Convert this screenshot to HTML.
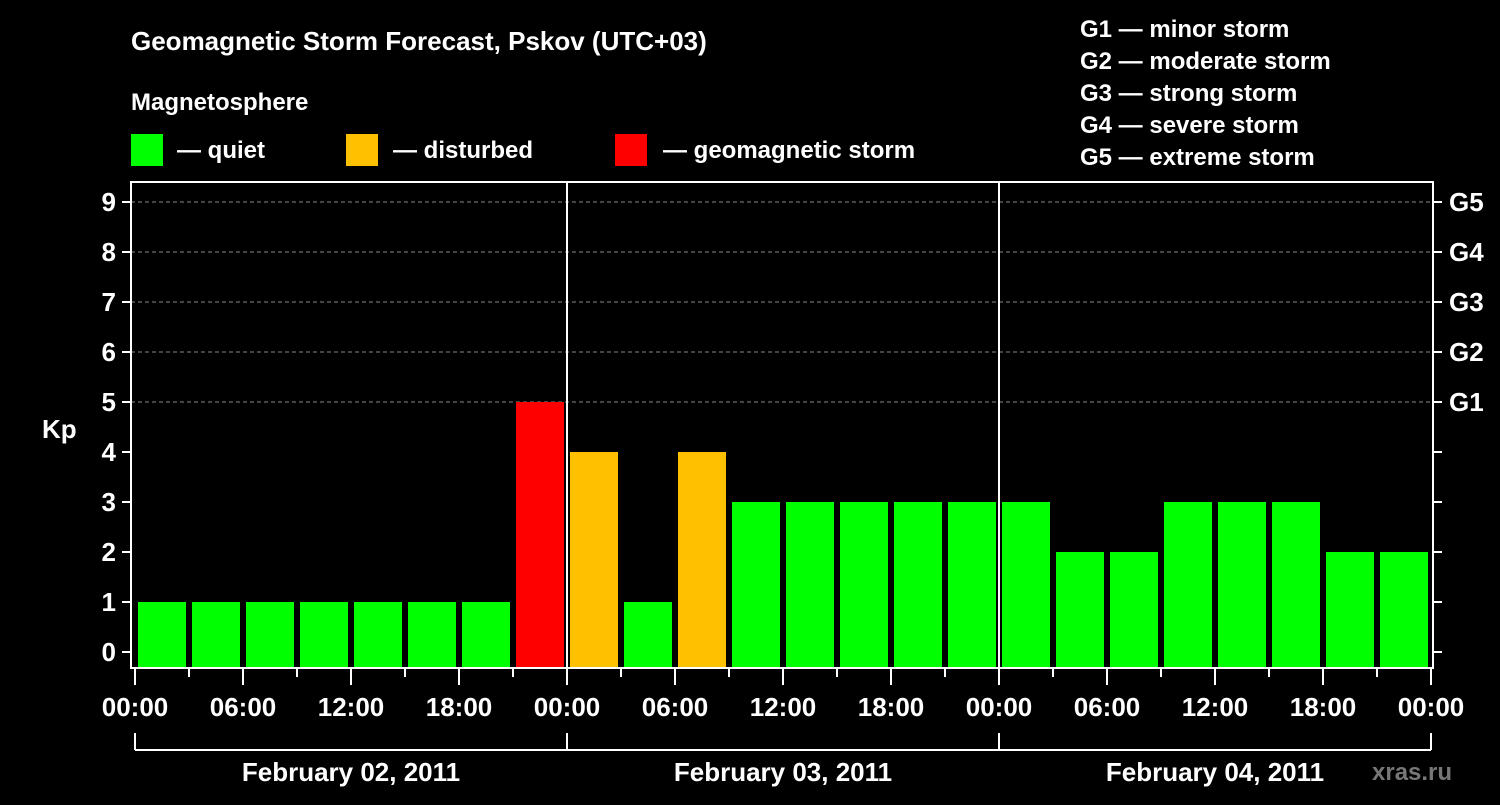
<!DOCTYPE html>
<html><head><meta charset="utf-8"><style>
body{margin:0;background:#000;width:1500px;height:800px;overflow:hidden}
svg text{font-family:"Liberation Sans",sans-serif;font-weight:bold;fill:#fff}
</style></head><body>
<svg id="c" width="1500" height="800">
<text x="131" y="50" font-size="26">Geomagnetic Storm Forecast, Pskov (UTC+03)</text>
<text x="131" y="110" font-size="24">Magnetosphere</text>
<g><rect x="131" y="134" width="32" height="32" fill="#00ff00"/><text x="177" y="158" font-size="24">— quiet</text></g>
<g><rect x="346" y="134" width="32" height="32" fill="#ffc000"/><text x="393" y="158" font-size="24">— disturbed</text></g>
<g><rect x="615" y="134" width="32" height="32" fill="#ff0000"/><text x="663" y="158" font-size="24">— geomagnetic storm</text></g>
<g font-size="24">
<text x="1080" y="37">G1 — minor storm</text><text x="1080" y="69">G2 — moderate storm</text><text x="1080" y="101">G3 — strong storm</text><text x="1080" y="133">G4 — severe storm</text><text x="1080" y="165">G5 — extreme storm</text></g>
<text x="42" y="438" font-size="26">Kp</text>
<text x="1372" y="780" font-size="24" fill="#777" style="fill:#777">xras.ru</text>
<g id="grid"></g><g id="bars"></g><g id="axes"></g>
</svg>
<script>
const kpValues=[1,1,1,1,1,1,1,5,4,1,4,3,3,3,3,3,3,2,2,3,3,3,2,2];
const yTicks=[0,1,2,3,4,5,6,7,8,9];
const gLabels=["G1","G2","G3","G4","G5"];
const timeLabels=["00:00","06:00","12:00","18:00"];
const dayLabels=["February 02, 2011","February 03, 2011","February 04, 2011"];
const NS="http://www.w3.org/2000/svg";
const X0=135,DAYW=432,BOT=668,TOP=182,L=131,R=1433;
const y=v=>652-50*v, x=h=>X0+h*DAYW/24;
function mk(p,t,a){const e=document.createElementNS(NS,t);for(const k in a)e.setAttribute(k,a[k]);p.appendChild(e);return e;}
const grid=document.getElementById('grid'),bars=document.getElementById('bars'),ax=document.getElementById('axes');
[5,6,7,8,9].forEach(v=>{const l=mk(grid,'line',{x1:L,x2:R,y1:y(v),y2:y(v),stroke:'#888','stroke-dasharray':'4,3'});

});
kpValues.forEach((v,i)=>{const c=v>=5?'#ff0000':v>=4?'#ffc000':'#00ff00';
const r=mk(bars,'rect',{x:x(i*3)+3,y:y(v),width:48,height:BOT-y(v),fill:c});

});
mk(ax,'rect',{x:L,y:TOP,width:R-L,height:BOT-TOP,fill:'none',stroke:'#fff','stroke-width':2});
[1,2].forEach(d=>mk(ax,'line',{x1:x(d*24),x2:x(d*24),y1:TOP,y2:BOT,stroke:'#fff','stroke-width':2}));
yTicks.forEach(v=>{mk(ax,'line',{x1:122,x2:L,y1:y(v),y2:y(v),stroke:'#fff','stroke-width':2});
mk(ax,'line',{x1:R,x2:1442,y1:y(v),y2:y(v),stroke:'#fff','stroke-width':2});
const t=mk(ax,'text',{x:116,y:y(v)+9,'font-size':26,'text-anchor':'end'});t.textContent=v;

});
gLabels.forEach((g,i)=>{const t=mk(ax,'text',{x:1449,y:y(5+i)+9,'font-size':26});t.textContent=g;

});
for(let h=0;h<=72;h+=3){const maj=h%6===0;mk(ax,'line',{x1:x(h),x2:x(h),y1:BOT,y2:maj?685:677,stroke:'#fff','stroke-width':2});
if(maj){const t=mk(ax,'text',{x:x(h),y:716,'font-size':26,'text-anchor':'middle'});t.textContent=timeLabels[(h/6)%4];

}}
mk(ax,'line',{x1:x(0),x2:x(72),y1:750,y2:750,stroke:'#fff','stroke-width':2});
for(let d=0;d<=3;d++)mk(ax,'line',{x1:x(d*24),x2:x(d*24),y1:733,y2:750,stroke:'#fff','stroke-width':2});
dayLabels.forEach((s,d)=>{const t=mk(ax,'text',{x:x(d*24+12),y:781,'font-size':26,'text-anchor':'middle'});t.textContent=s;

});
</script>
</body></html>
